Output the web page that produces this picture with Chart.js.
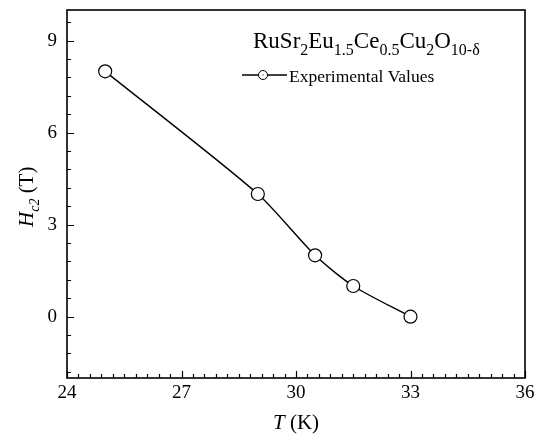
<!DOCTYPE html>
<html>
<head>
<meta charset="utf-8">
<script src="https://cdn.jsdelivr.net/npm/chart.js@4"></script>
<style>
  html, body { margin: 0; padding: 0; background: #fff; }
  #wrap { width: 536px; height: 434px; }
</style>
</head>
<body>
<div id="wrap"><canvas id="chart"></canvas></div>
<script>
const temperatures = [25, 29, 30.5, 31.5, 33];
const hc2Values = [8, 4, 2, 1, 0];
const xTicks = [24, 27, 30, 33, 36];
const yTicks = [0, 3, 6, 9];
const seriesName = 'Experimental Values';

const SERIF = '"Liberation Serif", "DejaVu Serif", serif';

// draw text made of pieces, some of them subscripts
function drawRich(ctx, parts, x, y, size, italic) {
    let cx = x;
    parts.forEach(p => {
        const sub = p[1];
        const it = p[2] !== undefined ? p[2] : italic;
        const fs = sub ? Math.round(size * 0.68) : size;
        ctx.font = (it ? 'italic ' : '') + fs + 'px ' + SERIF;
        ctx.fillText(p[0], cx, sub ? y + size * 0.3 : y);
        cx += ctx.measureText(p[0]).width;
    });
}

function noPad(s) {
    s.paddingTop = 0;
    s.paddingBottom = 0;
    s.paddingLeft = 0;
    s.paddingRight = 0;
}

const framePlugin = {
    id: 'frame',
    afterDraw(chart) {
        const ctx = chart.ctx;
        const a = chart.chartArea;
        const xs = chart.scales.x;
        const ys = chart.scales.y;
        ctx.save();
        ctx.strokeStyle = '#000';
        ctx.lineWidth = 1.6;
        ctx.strokeRect(a.left, a.top, a.right - a.left, a.bottom - a.top);

        ctx.lineWidth = 1.2;
        ctx.beginPath();
        // x ticks on bottom, pointing in
        for (let i = 0; i <= 40; i++) {
            const v = xs.min + i * 0.3;
            const px = Math.round(xs.getPixelForValue(v)) + 0.5;
            const len = i % 10 === 0 ? 7 : 4;
            ctx.moveTo(px, a.bottom);
            ctx.lineTo(px, a.bottom - len);
        }
        // y ticks on left, pointing in
        for (let k = -3; k <= 16; k++) {
            const v = k * 0.6;
            if (v < ys.min || v > ys.max) continue;
            const py = Math.round(ys.getPixelForValue(v)) + 0.5;
            const len = k % 5 === 0 ? 7 : 4;
            ctx.moveTo(a.left, py);
            ctx.lineTo(a.left + len, py);
        }
        ctx.stroke();

        ctx.fillStyle = '#000';
        ctx.textBaseline = 'alphabetic';
        ctx.textAlign = 'left';

        // compound name
        drawRich(ctx, [['RuSr'], ['2', 1], ['Eu'], ['1.5', 1], ['Ce'], ['0.5', 1],
            ['Cu'], ['2', 1], ['O'], ['10-\u03b4', 1]], 253, 48, 23, false);

        // legend
        const ly = 75;
        ctx.lineWidth = 1.3;
        ctx.beginPath();
        ctx.moveTo(242, ly);
        ctx.lineTo(287, ly);
        ctx.stroke();
        ctx.beginPath();
        ctx.arc(263, ly, 4.5, 0, Math.PI * 2);
        ctx.fillStyle = '#fff';
        ctx.fill();
        ctx.lineWidth = 1;
        ctx.stroke();
        ctx.fillStyle = '#000';
        ctx.fillRect(262.5, ly - 0.5, 1, 1);
        ctx.font = '17.5px ' + SERIF;
        ctx.fillText(seriesName, 289, 82);

        // x axis title
        ctx.font = 'italic 21px ' + SERIF;
        const tW = ctx.measureText('T').width;
        ctx.font = '21px ' + SERIF;
        const kW = ctx.measureText(' (K)').width;
        drawRich(ctx, [['T', 0, true], [' (K)', 0, false]], (a.left + a.right) / 2 - (tW + kW) / 2, 429, 21, false);

        // y axis title
        ctx.save();
        ctx.translate(33, 227);
        ctx.rotate(-Math.PI / 2);
        drawRich(ctx, [['H', 0, true], ['c2', 1, true], [' (T)', 0, false]], 0, 0, 21, false);
        ctx.restore();

        ctx.restore();
    }
};

new Chart(document.getElementById('chart'), {
    type: 'line',
    data: {
        datasets: [{
            label: seriesName,
            data: temperatures.map((t, i) => ({ x: t, y: hc2Values[i] })),
            borderColor: '#000',
            borderWidth: 1.4,
            tension: 0.25,
            pointRadius: 6.5,
            pointBorderWidth: 1.2,
            pointBackgroundColor: '#fff',
            pointBorderColor: '#000',
            fill: false
        }, {
            label: 'centres',
            data: temperatures.map((t, i) => ({ x: t, y: hc2Values[i] })),
            showLine: false,
            pointRadius: 0.9,
            pointBorderWidth: 0,
            pointBackgroundColor: '#000'
        }]
    },
    options: {
        responsive: true,
        maintainAspectRatio: false,
        animation: false,
        layout: { padding: { top: 10, right: 11, left: 0, bottom: 0 } },
        plugins: { legend: { display: false }, tooltip: { enabled: false } },
        scales: {
            x: {
                type: 'linear',
                min: 24, max: 36,
                afterBuildTicks: s => { s.ticks = xTicks.map(v => ({ value: v })); },
                afterFit: s => { s.height = 56; noPad(s); },
                grid: { display: false, drawTicks: false },
                border: { display: false },
                ticks: { color: '#000', padding: 4, font: { family: SERIF, size: 19 } }
            },
            y: {
                type: 'linear',
                min: -2, max: 10,
                afterBuildTicks: s => { s.ticks = yTicks.map(v => ({ value: v })); },
                afterFit: s => { s.width = 67; noPad(s); },
                grid: { display: false, drawTicks: false },
                border: { display: false },
                ticks: { color: '#000', padding: 10, font: { family: SERIF, size: 19 } }
            }
        }
    },
    plugins: [framePlugin]
});
</script>
</body>
</html>
